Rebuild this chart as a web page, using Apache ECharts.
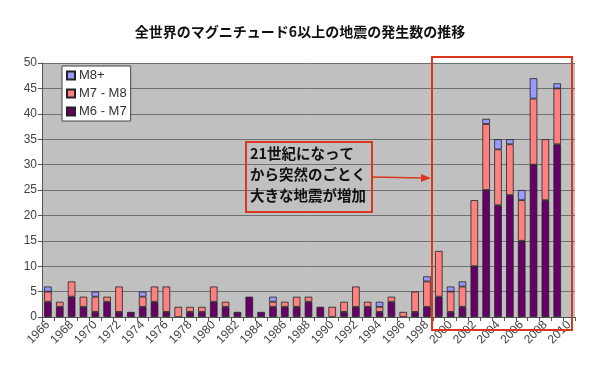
<!DOCTYPE html>
<html><head><meta charset="utf-8">
<script src="https://cdn.jsdelivr.net/npm/echarts@6/dist/echarts.min.js"></script>
<style>html,body{margin:0;padding:0;background:#fff}#c{width:600px;height:370px}</style>
</head><body><div id="c"></div>
<script>
const years = ['1966','1967','1968','1969','1970','1971','1972','1973','1974','1975','1976','1977','1978','1979','1980','1981','1982','1983','1984','1985','1986','1987','1988','1989','1990','1991','1992','1993','1994','1995','1996','1997','1998','1999','2000','2001','2002','2003','2004','2005','2006','2007','2008','2009','2010'];
const m6to7 = [3,2,4,2,1,3,1,1,2,3,1,0,1,1,3,2,1,4,1,2,2,2,3,2,0,1,2,2,1,3,0,1,2,4,1,2,10,25,22,24,15,30,23,34,0];
const m7to8 = [2,1,3,2,3,1,5,0,2,3,5,2,1,1,3,1,0,0,0,1,1,2,1,0,2,2,4,1,1,1,1,4,5,9,4,4,13,13,11,10,8,13,12,11,0];
const m8plus = [1,0,0,0,1,0,0,0,1,0,0,0,0,0,0,0,0,0,0,1,0,0,0,0,0,0,0,0,1,0,0,0,1,0,1,1,0,1,2,1,2,4,0,1,0];
const seriesNames = ['M6 - M7','M7 - M8','M8+'];
const yTicks = {min:0, max:50, interval:5};

const clean = a => a.map(v => v === 0 ? '-' : v);
const colors = ['#660066','#ff8080','#9999ff'];
const chart = echarts.init(document.getElementById('c'), null, {renderer:'canvas'});
const mk = (name, data, i) => ({
  name, type:'bar', stack:'all', data: clean(data), barCategoryGap:'36%',
  itemStyle:{color:colors[i], borderColor:'#222', borderWidth:0.8},
  emphasis:{disabled:true}
});
const jp = '"Noto Sans CJK JP", sans-serif';
const red = '#d9381e';
chart.setOption({
  animation:false,
  backgroundColor:'#fff',
  title:{text:'全世界のマグニチュード6以上の地震の発生数の推移', left:'center', top:20,
    textStyle:{fontFamily:jp, fontSize:14, fontWeight:'bold', color:'#111'}},
  grid:{left:42, right:25, top:63, bottom:53, show:true, backgroundColor:'#c0c0c0', borderWidth:0},
  legend:{orient:'vertical', left:62, top:66, data:['M8+','M7 - M8','M6 - M7'],
    backgroundColor:'#fff', borderColor:'#444', borderWidth:1, padding:[3,4,3,4],
    itemWidth:8, itemHeight:8, itemGap:5, icon:'rect',
    textStyle:{fontFamily:'Liberation Sans, Arial', fontSize:13, color:'#333', padding:[0,0,0,-1]}},
  xAxis:{type:'category', data:years,
    axisLine:{lineStyle:{color:'#555'}},
    axisTick:{show:true, interval:0, length:4, lineStyle:{color:'#555'}},
    axisLabel:{interval:1, rotate:45, fontFamily:'Liberation Sans, Arial', fontSize:12, color:'#444', margin:6},
    splitLine:{show:false}},
  yAxis:{type:'value', min:yTicks.min, max:yTicks.max, interval:yTicks.interval,
    axisLine:{show:true, lineStyle:{color:'#555'}},
    axisTick:{show:true, length:4, lineStyle:{color:'#555'}},
    axisLabel:{fontFamily:'Liberation Sans, Arial', fontSize:12, color:'#444', margin:5},
    splitLine:{lineStyle:{color:'#6f6f6f', width:1}}},
  series:[mk(seriesNames[0], m6to7, 0), mk(seriesNames[1], m7to8, 1), mk(seriesNames[2], m8plus, 2)],
  graphic:[
    {type:'rect', shape:{x:432, y:57, width:140, height:273}, style:{fill:'none', stroke:red, lineWidth:2}, z:100},
    {type:'rect', shape:{x:246, y:142, width:126, height:70}, style:{fill:'none', stroke:red, lineWidth:2}, z:100},
    {type:'text', left:250, top:143, z:101, style:{text:'21世紀になって\nから突然のごとく\n大きな地震が増加', fontFamily:jp, fontSize:14.5, fontWeight:'bold', fill:'#111', lineHeight:21}},
    {type:'line', shape:{x1:372, y1:177, x2:423, y2:178}, style:{stroke:red, lineWidth:1.5}, z:100},
    {type:'polygon', shape:{points:[[431,178],[421,174],[421,182]]}, style:{fill:red}, z:100}
  ]
});
</script></body></html>
